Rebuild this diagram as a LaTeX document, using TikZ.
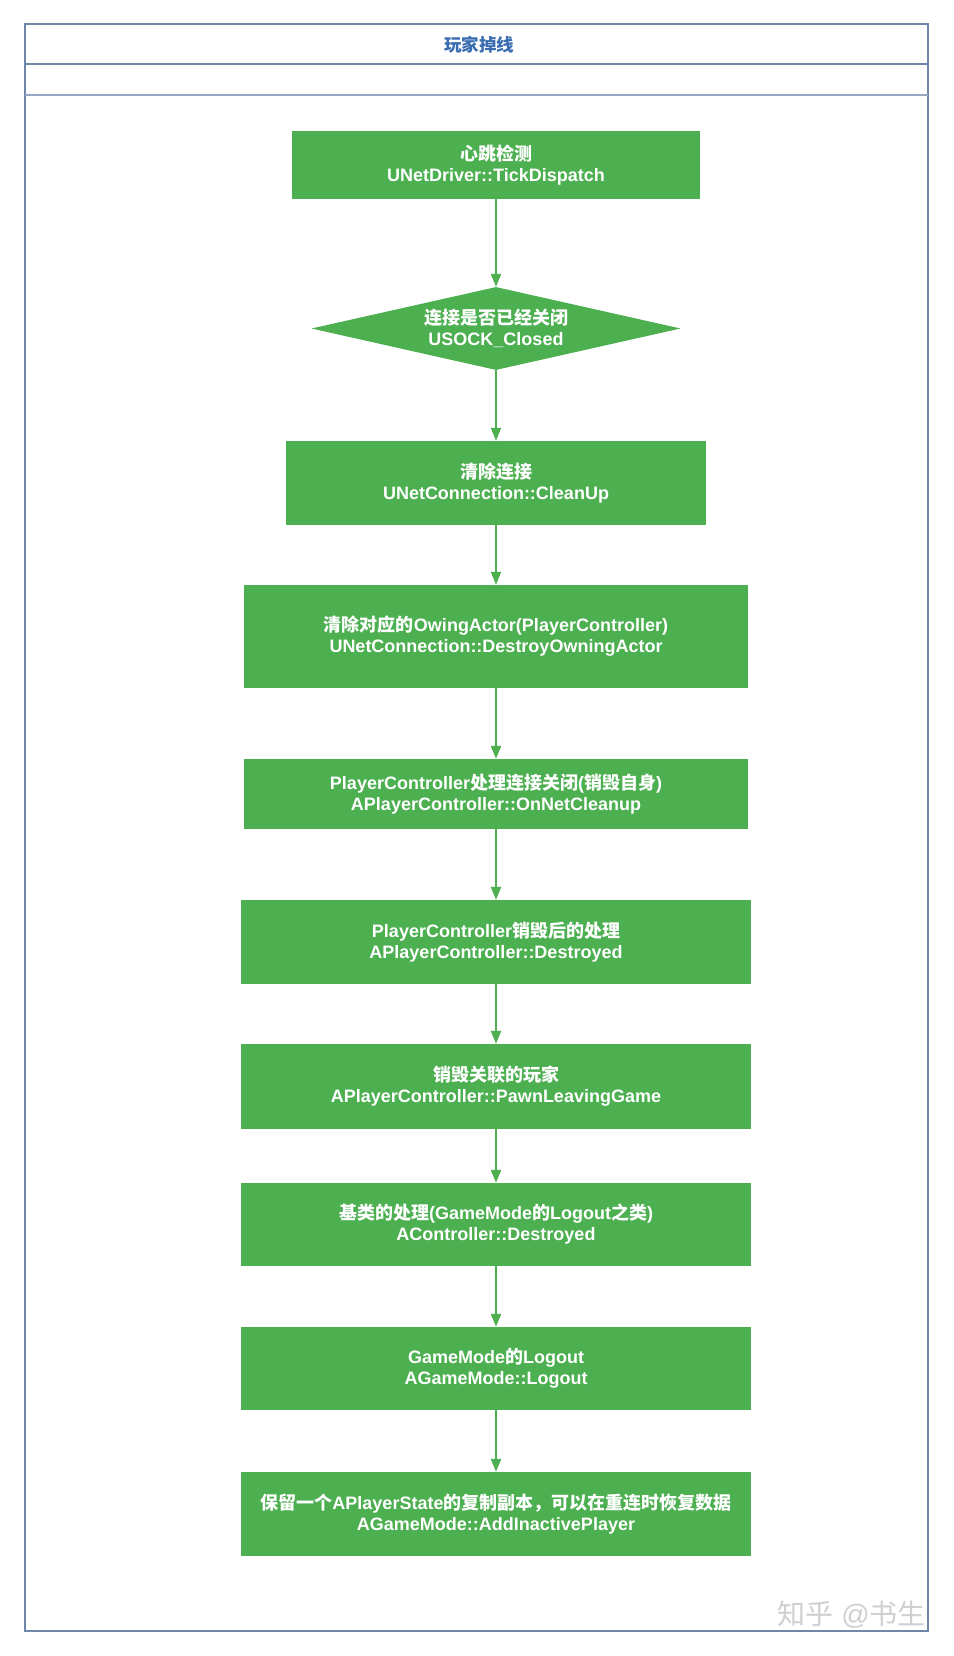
\documentclass[tikz,border=0pt]{standalone}
\usepackage{fontspec}
\setmainfont{Liberation Sans}
\newfontfamily\cjk{Noto Sans CJK SC}
\usetikzlibrary{shapes.geometric,arrows.meta}
\definecolor{boxgreen}{HTML}{4CAF50}
\definecolor{frameblue}{HTML}{6F87A8}
\definecolor{framelight}{HTML}{97A6C4}
\definecolor{titleblue}{HTML}{3A6CB2}
\definecolor{wmgray}{HTML}{CFCFCF}
\newcommand{\zh}[1]{{\cjk #1}}
\begin{document}
\begin{tikzpicture}[x=1pt,y=-1pt,
  stepbox/.style={fill=boxgreen,draw=none,text=white,align=center,inner sep=0pt,
    font=\bfseries\fontsize{18}{21}\selectfont},
  decision/.style={diamond,fill=boxgreen,draw=none,text=white,align=center,inner sep=0pt,
    minimum width=369pt,minimum height=83pt,aspect=4.45,
    font=\bfseries\fontsize{18}{21}\selectfont},
  flow/.style={draw=boxgreen,line width=2pt,-{Triangle[length=13pt,width=10pt]}},
  frameline/.style={draw=frameblue,line width=2pt},
]
\useasboundingbox (0,0) rectangle (953,1656);
\fill[white] (0,0) rectangle (953,1656);
% frame
\draw[frameline] (25,24) rectangle (928,1631);
\draw[frameline] (25,64) -- (928,64);
\draw[draw=framelight,line width=2pt] (25,95) -- (928,95);
\node[font=\bfseries\fontsize{17.5}{20}\selectfont,text=titleblue] (title) at (479,45) {\zh{玩家掉线}};
% boxes
\node[stepbox,minimum width=408pt,minimum height=68pt] (b1) at (496,165) {\zh{心跳检测}\\UNetDriver::TickDispatch};
\node[decision] (d1) at (496,328.5) {\zh{连接是否已经关闭}\\USOCK\_Closed};
\node[stepbox,minimum width=420pt,minimum height=84pt] (b2) at (496,483) {\zh{清除连接}\\UNetConnection::CleanUp};
\node[stepbox,minimum width=504pt,minimum height=103pt] (b3) at (496,636.5) {\zh{清除对应的}OwingActor(PlayerController)\\UNetConnection::DestroyOwningActor};
\node[stepbox,minimum width=504pt,minimum height=70pt] (b4) at (496,794) {PlayerController\zh{处理连接关闭}(\zh{销毁自身})\\APlayerController::OnNetCleanup};
\node[stepbox,minimum width=510pt,minimum height=84pt] (b5) at (496,942) {PlayerController\zh{销毁后的处理}\\APlayerController::Destroyed};
\node[stepbox,minimum width=510pt,minimum height=85pt] (b6) at (496,1086.5) {\zh{销毁关联的玩家}\\APlayerController::PawnLeavingGame};
\node[stepbox,minimum width=510pt,minimum height=83pt] (b7) at (496,1224.5) {\zh{基类的处理}(GameMode\zh{的}Logout\zh{之类})\\AController::Destroyed};
\node[stepbox,minimum width=510pt,minimum height=83pt] (b8) at (496,1368.5) {GameMode\zh{的}Logout\\AGameMode::Logout};
\node[stepbox,minimum width=510pt,minimum height=84pt] (b9) at (496,1514) {\zh{保留一个}APlayerState\zh{的复制副本，可以在重连时恢复数据}\\AGameMode::AddInactivePlayer};
% connectors
\draw[flow] (b1) -- (d1);
\draw[flow] (d1) -- (b2);
\draw[flow] (b2) -- (b3);
\draw[flow] (b3) -- (b4);
\draw[flow] (b4) -- (b5);
\draw[flow] (b5) -- (b6);
\draw[flow] (b6) -- (b7);
\draw[flow] (b7) -- (b8);
\draw[flow] (b8) -- (b9);
% watermark
\node[anchor=south east,inner sep=0pt,font=\fontsize{28}{30}\selectfont,text=wmgray] (wm) at (926,1629) {\zh{知乎} @\zh{书生}};
\end{tikzpicture}
\end{document}
